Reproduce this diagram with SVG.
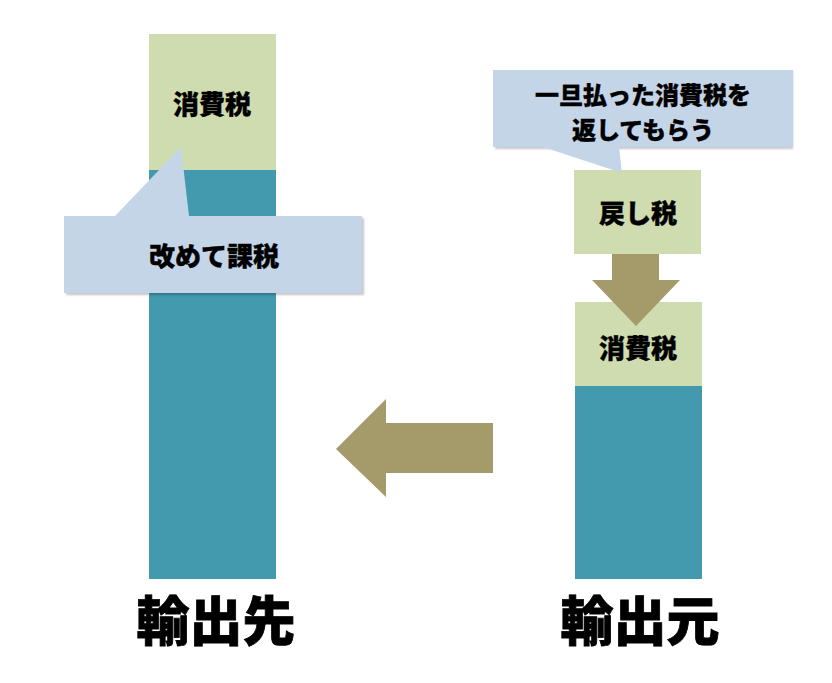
<svg xmlns="http://www.w3.org/2000/svg" width="832" height="683" viewBox="0 0 832 683">
<defs>
<style>
.green{fill:#CFDCB0;}
.teal{fill:#4399AE;}
.callout{fill:#C5D5E8;}
.shadow{fill:#000;opacity:0.22;}
.arrow{fill:#A59A6A;}
.t{font-family:"Noto Sans CJK JP","Noto Sans CJK SC",sans-serif;font-weight:900;fill:#000;stroke:#000;text-anchor:middle;}
.s{font-size:26px;stroke-width:0.4;}
.c{font-size:24px;stroke-width:0.4;}
.b{font-size:53px;stroke-width:0.8;}
</style>
<filter id="blur" x="-10%" y="-10%" width="120%" height="130%"><feGaussianBlur stdDeviation="1.2"/></filter>
</defs>
<rect width="832" height="683" fill="#fff"/>
<g id="dest-bar">
<rect class="teal" x="149" y="170" width="127" height="409"/>
<rect class="green" x="149" y="34" width="127" height="136"/>
<text class="t s" x="212" y="114">消費税</text>
</g>
<g id="dest-callout">
<rect class="shadow" x="66" y="218" width="298" height="77" filter="url(#blur)"/>
<path class="callout" d="M64,216 L115,216 L181,147 L189,216 L362,216 L362,293 L64,293 Z"/>
<text class="t s" x="214" y="266">改めて課税</text>
</g>
<g id="origin-bar">
<rect class="teal" x="575" y="386" width="127" height="193"/>
<rect class="green" x="575" y="302" width="127" height="84"/>
<text class="t s" x="638" y="358">消費税</text>
</g>
<g id="refund-box">
<rect class="green" x="574" y="170" width="127" height="84"/>
<text class="t s" x="638" y="223">戻し税</text>
</g>
<g id="origin-callout">
<rect class="shadow" x="495" y="72" width="298" height="77" filter="url(#blur)"/>
<path class="callout" d="M493,70 L793,70 L793,147 L619,147 L622,173 L543,147 L493,147 Z"/>
<text class="t c" x="643" y="104">一旦払った消費税を</text>
<text class="t c" x="643" y="139">返してもらう</text>
</g>
<g id="connectors">
<path class="arrow" d="M612,254 L659,254 L659,280 L680,280 L636,326 L592,280 L612,280 Z"/>
<path class="arrow" d="M493,423 L493,473 L386,473 L386,497 L336,449 L386,399 L386,423 Z"/>
</g>
<g id="labels">
<text class="t b" x="216" y="641">輸出先</text>
<text class="t b" x="640" y="641">輸出元</text>
</g>
</svg>
